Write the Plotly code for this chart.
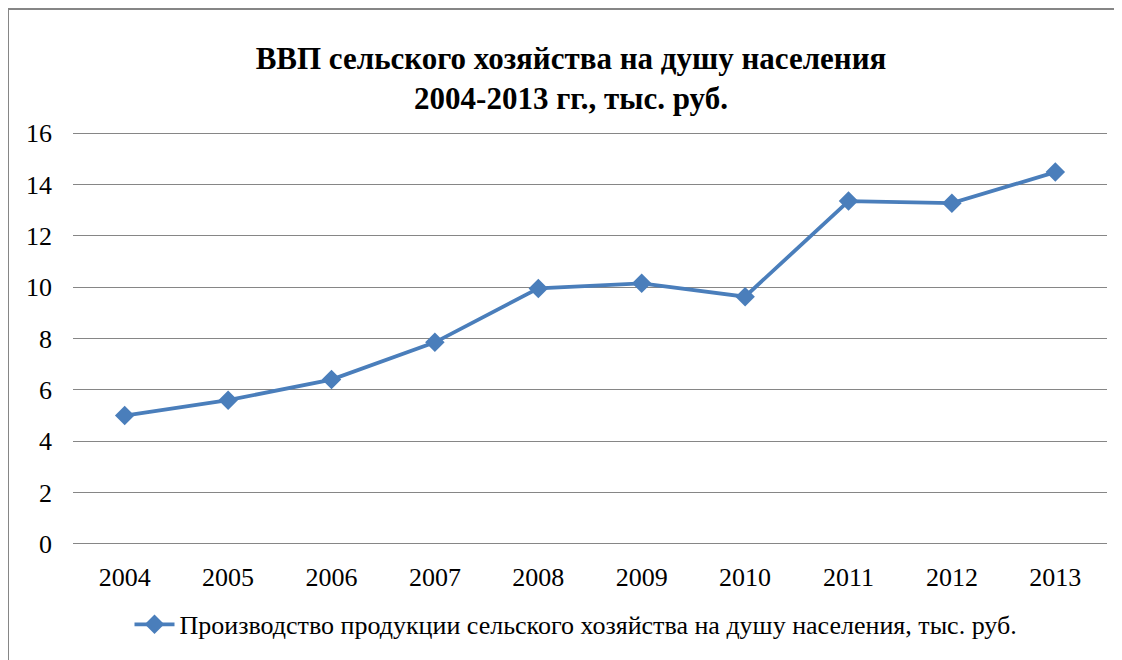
import plotly.graph_objects as go

years = ["2004", "2005", "2006", "2007", "2008", "2009", "2010", "2011", "2012", "2013"]
values = [5.0, 5.6, 6.4, 7.85, 9.95, 10.15, 9.63, 13.35, 13.27, 14.48]
series_name = "Производство продукции сельского хозяйства на душу населения, тыс. руб."
title_text = "ВВП сельского хозяйства на душу населения<br>2004-2013 гг., тыс. руб."

# page body has an 8px margin; figure is sized to fit the window
W, H = 1114, 652
L, R, T, B = 65, 15, 123, 111
pw, ph = W - L - R, H - T - B

def px(x):
    return (x - L) / pw

def py(y):
    return (H - B - y) / ph

fig = go.Figure()
fig.add_trace(go.Scatter(
    x=years, y=values, mode="lines+markers", name=series_name,
    line=dict(color="#4A7EBB", width=3.8),
    marker=dict(symbol="diamond", size=15, color="#4A7EBB"),
))

fig.update_layout(
    width=W, height=H,
    margin=dict(l=L, r=R, t=T, b=B),
    paper_bgcolor="white", plot_bgcolor="white",
    font=dict(family="Liberation Serif", color="black"),
    title=dict(text="<b>" + title_text + "</b>", x=563 / W, xanchor="center",
               y=1 - 61 / H, yanchor="middle",
               font=dict(size=31, family="Liberation Serif")),
    xaxis=dict(type="category", range=[-0.5, 9.5], showgrid=False,
               showline=False, ticks="", tickfont=dict(size=26),
               ticklabelstandoff=13),
    yaxis=dict(range=[-0.08, 16.08], tickvals=[0, 2, 4, 6, 8, 10, 12, 14, 16],
               showgrid=True, gridcolor="#868686",
               gridwidth=1, zeroline=False, showline=False, ticks="",
               tickfont=dict(size=26), ticklabelstandoff=20),
    showlegend=True,
    legend=dict(orientation="h", x=px(568), xanchor="center", y=py(620),
                yanchor="middle", font=dict(size=26, family="Liberation Serif"),
                itemwidth=40),
    shapes=[dict(type="rect", xref="paper", yref="paper",
                 x0=px(0), x1=px(1109), y0=py(670), y1=py(0),
                 line=dict(color="#868686", width=2), fillcolor="rgba(0,0,0,0)",
                 layer="below")],
)

fig.write_html("out.html")
